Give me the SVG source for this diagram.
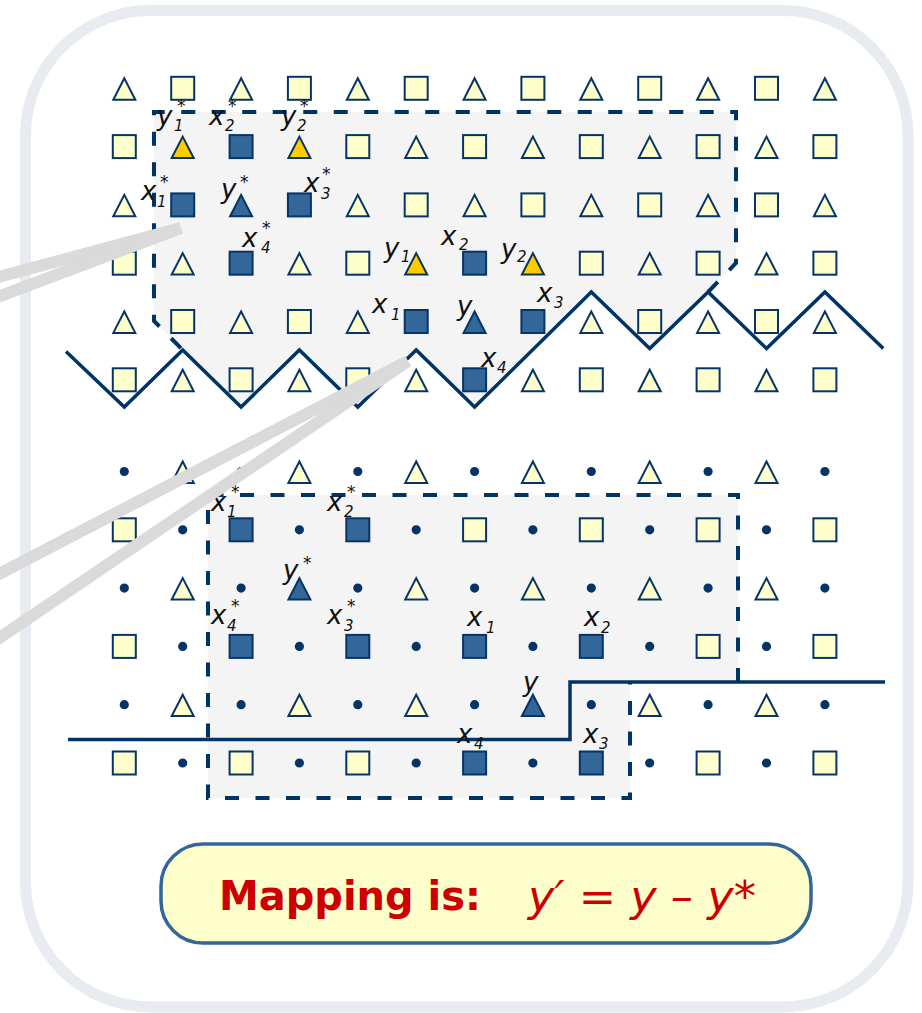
<svg xmlns="http://www.w3.org/2000/svg" xmlns:xlink="http://www.w3.org/1999/xlink" width="922" height="1013" viewBox="0 0 922 1013">
<style>
.sh{stroke:#063466;stroke-width:2}
.y{fill:#FFFFCC}
.b{fill:#336699}
.o{fill:#FFCC00}
.d{fill:#063466}
.region{fill:#F4F4F4;stroke:none}
.dash{fill:none;stroke:#003366;stroke-width:4;stroke-dasharray:14 16.5}
.bound{fill:none;stroke:#003366;stroke-width:3.5;stroke-linejoin:miter}
.ptr{stroke:#DADADA;stroke-width:12;fill:none}
.m{font-family:"DejaVu Sans",Verdana,sans-serif;font-style:italic;font-size:26px;fill:#111}
.s{font-size:15px}
.st{font-size:17px}
</style>
<defs>
<rect id="S" x="-11.5" y="-11.5" width="23" height="23"/>
<path id="T" d="M0,-10 L11,11.4 L-11,11.4 Z"/>
<circle id="D" r="3.6"/>
</defs>
<rect width="922" height="1013" fill="#FFFFFF"/>
<rect id="panel" x="25.5" y="10.5" width="882.5" height="996.5" rx="125" fill="#FFFFFF" stroke="#E8ECF0" stroke-width="11"/>

<g id="regions">
<path class="region" d="M154,112 H736 V263 L708.1,292 L649.7,348.5 L591.3,292 L474.6,407 L416.2,350 L357.8,407 L299.4,350 L241.1,407 L182.7,350 L154,321 Z"/>
<path class="region" d="M208,495 H738 V682 H630 V798 H208 Z"/>
</g>

<g id="grid-top" class="sh">
<!-- row 0 -->
<use href="#T" x="124.3" y="88.3" class="y"/><use href="#S" x="182.7" y="88.3" class="y"/><use href="#T" x="241.1" y="88.3" class="y"/><use href="#S" x="299.4" y="88.3" class="y"/><use href="#T" x="357.8" y="88.3" class="y"/><use href="#S" x="416.2" y="88.3" class="y"/><use href="#T" x="474.6" y="88.3" class="y"/><use href="#S" x="532.9" y="88.3" class="y"/><use href="#T" x="591.3" y="88.3" class="y"/><use href="#S" x="649.7" y="88.3" class="y"/><use href="#T" x="708.1" y="88.3" class="y"/><use href="#S" x="766.5" y="88.3" class="y"/><use href="#T" x="824.9" y="88.3" class="y"/>
<!-- row 1 -->
<use href="#S" x="124.3" y="146.6" class="y"/><use href="#T" x="182.7" y="146.6" class="o"/><use href="#S" x="241.1" y="146.6" class="b"/><use href="#T" x="299.4" y="146.6" class="o"/><use href="#S" x="357.8" y="146.6" class="y"/><use href="#T" x="416.2" y="146.6" class="y"/><use href="#S" x="474.6" y="146.6" class="y"/><use href="#T" x="532.9" y="146.6" class="y"/><use href="#S" x="591.3" y="146.6" class="y"/><use href="#T" x="649.7" y="146.6" class="y"/><use href="#S" x="708.1" y="146.6" class="y"/><use href="#T" x="766.5" y="146.6" class="y"/><use href="#S" x="824.9" y="146.6" class="y"/>
<!-- row 2 -->
<use href="#T" x="124.3" y="204.9" class="y"/><use href="#S" x="182.7" y="204.9" class="b"/><use href="#T" x="241.1" y="204.9" class="b"/><use href="#S" x="299.4" y="204.9" class="b"/><use href="#T" x="357.8" y="204.9" class="y"/><use href="#S" x="416.2" y="204.9" class="y"/><use href="#T" x="474.6" y="204.9" class="y"/><use href="#S" x="532.9" y="204.9" class="y"/><use href="#T" x="591.3" y="204.9" class="y"/><use href="#S" x="649.7" y="204.9" class="y"/><use href="#T" x="708.1" y="204.9" class="y"/><use href="#S" x="766.5" y="204.9" class="y"/><use href="#T" x="824.9" y="204.9" class="y"/>
<!-- row 3 -->
<use href="#S" x="124.3" y="263.2" class="y"/><use href="#T" x="182.7" y="263.2" class="y"/><use href="#S" x="241.1" y="263.2" class="b"/><use href="#T" x="299.4" y="263.2" class="y"/><use href="#S" x="357.8" y="263.2" class="y"/><use href="#T" x="416.2" y="263.2" class="o"/><use href="#S" x="474.6" y="263.2" class="b"/><use href="#T" x="532.9" y="263.2" class="o"/><use href="#S" x="591.3" y="263.2" class="y"/><use href="#T" x="649.7" y="263.2" class="y"/><use href="#S" x="708.1" y="263.2" class="y"/><use href="#T" x="766.5" y="263.2" class="y"/><use href="#S" x="824.9" y="263.2" class="y"/>
<!-- row 4 -->
<use href="#T" x="124.3" y="321.5" class="y"/><use href="#S" x="182.7" y="321.5" class="y"/><use href="#T" x="241.1" y="321.5" class="y"/><use href="#S" x="299.4" y="321.5" class="y"/><use href="#T" x="357.8" y="321.5" class="y"/><use href="#S" x="416.2" y="321.5" class="b"/><use href="#T" x="474.6" y="321.5" class="b"/><use href="#S" x="532.9" y="321.5" class="b"/><use href="#T" x="591.3" y="321.5" class="y"/><use href="#S" x="649.7" y="321.5" class="y"/><use href="#T" x="708.1" y="321.5" class="y"/><use href="#S" x="766.5" y="321.5" class="y"/><use href="#T" x="824.9" y="321.5" class="y"/>
<!-- row 5 -->
<use href="#S" x="124.3" y="379.8" class="y"/><use href="#T" x="182.7" y="379.8" class="y"/><use href="#S" x="241.1" y="379.8" class="y"/><use href="#T" x="299.4" y="379.8" class="y"/><use href="#S" x="357.8" y="379.8" class="y"/><use href="#T" x="416.2" y="379.8" class="y"/><use href="#S" x="474.6" y="379.8" class="b"/><use href="#T" x="532.9" y="379.8" class="y"/><use href="#S" x="591.3" y="379.8" class="y"/><use href="#T" x="649.7" y="379.8" class="y"/><use href="#S" x="708.1" y="379.8" class="y"/><use href="#T" x="766.5" y="379.8" class="y"/><use href="#S" x="824.9" y="379.8" class="y"/>
</g>

<g id="grid-bottom" class="sh">
<!-- row 0 -->
<use href="#D" x="124.3" y="471.5" class="d"/><use href="#T" x="182.7" y="471.5" class="y"/><use href="#D" x="241.1" y="471.5" class="d"/><use href="#T" x="299.4" y="471.5" class="y"/><use href="#D" x="357.8" y="471.5" class="d"/><use href="#T" x="416.2" y="471.5" class="y"/><use href="#D" x="474.6" y="471.5" class="d"/><use href="#T" x="532.9" y="471.5" class="y"/><use href="#D" x="591.3" y="471.5" class="d"/><use href="#T" x="649.7" y="471.5" class="y"/><use href="#D" x="708.1" y="471.5" class="d"/><use href="#T" x="766.5" y="471.5" class="y"/><use href="#D" x="824.9" y="471.5" class="d"/>
<!-- row 1 -->
<use href="#S" x="124.3" y="529.8" class="y"/><use href="#D" x="182.7" y="529.8" class="d"/><use href="#S" x="241.1" y="529.8" class="b"/><use href="#D" x="299.4" y="529.8" class="d"/><use href="#S" x="357.8" y="529.8" class="b"/><use href="#D" x="416.2" y="529.8" class="d"/><use href="#S" x="474.6" y="529.8" class="y"/><use href="#D" x="532.9" y="529.8" class="d"/><use href="#S" x="591.3" y="529.8" class="y"/><use href="#D" x="649.7" y="529.8" class="d"/><use href="#S" x="708.1" y="529.8" class="y"/><use href="#D" x="766.5" y="529.8" class="d"/><use href="#S" x="824.9" y="529.8" class="y"/>
<!-- row 2 -->
<use href="#D" x="124.3" y="588.1" class="d"/><use href="#T" x="182.7" y="588.1" class="y"/><use href="#D" x="241.1" y="588.1" class="d"/><use href="#T" x="299.4" y="588.1" class="b"/><use href="#D" x="357.8" y="588.1" class="d"/><use href="#T" x="416.2" y="588.1" class="y"/><use href="#D" x="474.6" y="588.1" class="d"/><use href="#T" x="532.9" y="588.1" class="y"/><use href="#D" x="591.3" y="588.1" class="d"/><use href="#T" x="649.7" y="588.1" class="y"/><use href="#D" x="708.1" y="588.1" class="d"/><use href="#T" x="766.5" y="588.1" class="y"/><use href="#D" x="824.9" y="588.1" class="d"/>
<!-- row 3 -->
<use href="#S" x="124.3" y="646.4" class="y"/><use href="#D" x="182.7" y="646.4" class="d"/><use href="#S" x="241.1" y="646.4" class="b"/><use href="#D" x="299.4" y="646.4" class="d"/><use href="#S" x="357.8" y="646.4" class="b"/><use href="#D" x="416.2" y="646.4" class="d"/><use href="#S" x="474.6" y="646.4" class="b"/><use href="#D" x="532.9" y="646.4" class="d"/><use href="#S" x="591.3" y="646.4" class="b"/><use href="#D" x="649.7" y="646.4" class="d"/><use href="#S" x="708.1" y="646.4" class="y"/><use href="#D" x="766.5" y="646.4" class="d"/><use href="#S" x="824.9" y="646.4" class="y"/>
<!-- row 4 -->
<use href="#D" x="124.3" y="704.7" class="d"/><use href="#T" x="182.7" y="704.7" class="y"/><use href="#D" x="241.1" y="704.7" class="d"/><use href="#T" x="299.4" y="704.7" class="y"/><use href="#D" x="357.8" y="704.7" class="d"/><use href="#T" x="416.2" y="704.7" class="y"/><use href="#D" x="474.6" y="704.7" class="d"/><use href="#T" x="532.9" y="704.7" class="b"/><use href="#D" x="591.3" y="704.7" class="d"/><use href="#T" x="649.7" y="704.7" class="y"/><use href="#D" x="708.1" y="704.7" class="d"/><use href="#T" x="766.5" y="704.7" class="y"/><use href="#D" x="824.9" y="704.7" class="d"/>
<!-- row 5 -->
<use href="#S" x="124.3" y="763" class="y"/><use href="#D" x="182.7" y="763" class="d"/><use href="#S" x="241.1" y="763" class="y"/><use href="#D" x="299.4" y="763" class="d"/><use href="#S" x="357.8" y="763" class="y"/><use href="#D" x="416.2" y="763" class="d"/><use href="#S" x="474.6" y="763" class="b"/><use href="#D" x="532.9" y="763" class="d"/><use href="#S" x="591.3" y="763" class="b"/><use href="#D" x="649.7" y="763" class="d"/><use href="#S" x="708.1" y="763" class="y"/><use href="#D" x="766.5" y="763" class="d"/><use href="#S" x="824.9" y="763" class="y"/>
</g>

<g id="connectors">
<path class="dash" d="M708.1,292 L736,263 V112 H154 V321 L182.7,350"/>
<path class="dash" d="M738,682 V495 H208 V798 H630 V682"/>
<polyline class="bound" points="66,351.5 124.3,407 182.7,350 241.1,407 299.4,350 357.8,407 416.2,350 474.6,407 591.3,292 649.7,348.5 708.1,292 766.5,348.5 824.9,292 883.3,348.5"/>
<polyline class="bound" points="68,739.5 570,739.5 570,682 885,682"/>
</g>

<g id="labels" class="m">
<g id="lt-y1s"><text x="157" y="125">y</text><text class="s" x="174" y="131">1</text><text class="st" x="177" y="112">*</text></g>
<g id="lt-x2s"><text x="209" y="125">x</text><text class="s" x="225" y="131">2</text><text class="st" x="228" y="112">*</text></g>
<g id="lt-y2s"><text x="281" y="125">y</text><text class="s" x="297" y="131">2</text><text class="st" x="300" y="112">*</text></g>
<g id="lt-x1s"><text x="141" y="200">x</text><text class="s" x="157" y="207">1</text><text class="st" x="160" y="188">*</text></g>
<g id="lt-ys"><text x="221" y="198">y</text><text class="st" x="240" y="188">*</text></g>
<g id="lt-x3s"><text x="304" y="192">x</text><text class="s" x="321" y="199">3</text><text class="st" x="322" y="180">*</text></g>
<g id="lt-x4s"><text x="242" y="247">x</text><text class="s" x="261" y="253">4</text><text class="st" x="262" y="234">*</text></g>
<g id="lt-y1"><text x="384" y="257">y</text><text class="s" x="401" y="262">1</text></g>
<g id="lt-x2"><text x="441" y="245">x</text><text class="s" x="459" y="250">2</text></g>
<g id="lt-y2"><text x="501" y="258">y</text><text class="s" x="517" y="262">2</text></g>
<g id="lt-x1"><text x="372" y="313">x</text><text class="s" x="391" y="320">1</text></g>
<g id="lt-y"><text x="457" y="315">y</text></g>
<g id="lt-x3"><text x="537" y="302">x</text><text class="s" x="554" y="308">3</text></g>
<g id="lt-x4"><text x="481" y="367">x</text><text class="s" x="497" y="373">4</text></g>
<g id="lb-x1s"><text x="211" y="511">x</text><text class="s" x="227" y="517">1</text><text class="st" x="231" y="498">*</text></g>
<g id="lb-x2s"><text x="327" y="511">x</text><text class="s" x="344" y="517">2</text><text class="st" x="347" y="498">*</text></g>
<g id="lb-ys"><text x="283" y="579">y</text><text class="st" x="303" y="569">*</text></g>
<g id="lb-x4s"><text x="211" y="624">x</text><text class="s" x="227" y="631">4</text><text class="st" x="231" y="612">*</text></g>
<g id="lb-x3s"><text x="327" y="624">x</text><text class="s" x="344" y="631">3</text><text class="st" x="347" y="612">*</text></g>
<g id="lb-x1"><text x="467" y="626">x</text><text class="s" x="486" y="633">1</text></g>
<g id="lb-x2"><text x="584" y="626">x</text><text class="s" x="601" y="633">2</text></g>
<g id="lb-y"><text x="523" y="691">y</text></g>
<g id="lb-x4"><text x="457" y="743">x</text><text class="s" x="474" y="749">4</text></g>
<g id="lb-x3"><text x="583" y="743">x</text><text class="s" x="599" y="749">3</text></g>
</g>

<g id="pointers">
<line class="ptr" x1="181" y1="228" x2="-5" y2="278"/>
<line class="ptr" x1="181" y1="228" x2="-5" y2="298"/>
<line class="ptr" x1="408" y1="361" x2="-5" y2="576"/>
<line class="ptr" x1="408" y1="361" x2="-5" y2="641"/>
</g>

<g id="mapping">
<rect x="161" y="844" width="650" height="99" rx="42" fill="#FFFFCC" stroke="#336699" stroke-width="3.5"/>
<text x="219" y="910" font-family="'DejaVu Sans',Verdana,sans-serif" font-weight="bold" font-size="41" fill="#CC0000" textLength="262" lengthAdjust="spacingAndGlyphs">Mapping is:</text>
<text x="528" y="911" font-family="'DejaVu Sans',Verdana,sans-serif" font-style="italic" font-size="43" fill="#CC0000" textLength="228" lengthAdjust="spacingAndGlyphs">y′ = y – y*</text>
</g>
</svg>
